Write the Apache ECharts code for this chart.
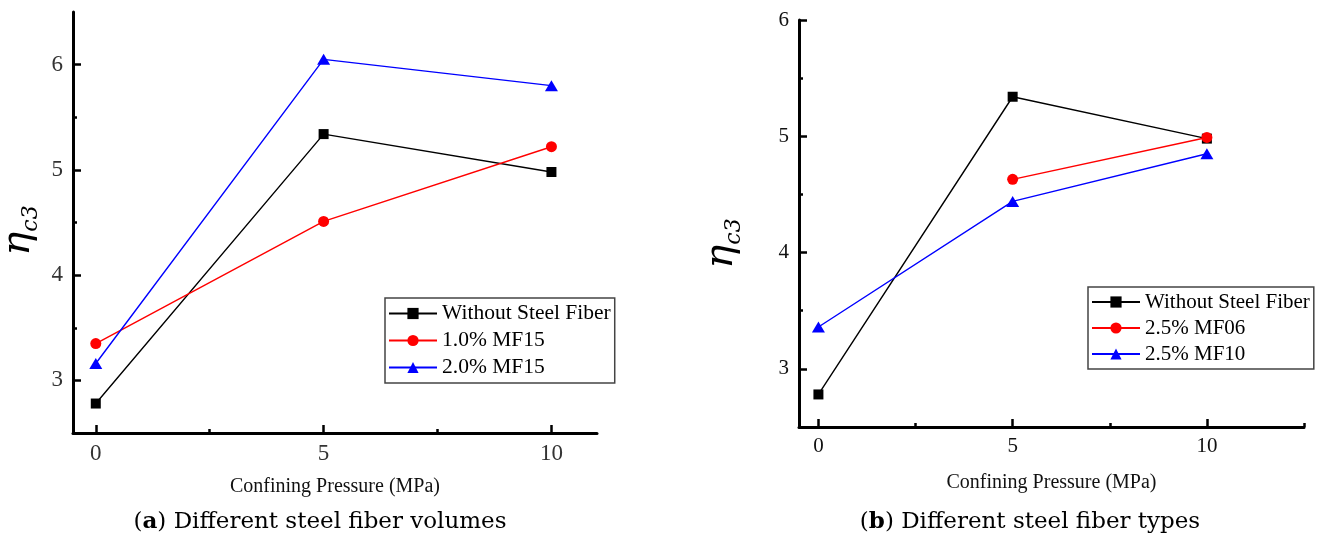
<!DOCTYPE html>
<html>
<head>
<meta charset="utf-8">
<script src="https://cdn.jsdelivr.net/npm/echarts@6/dist/echarts.min.js"></script>
<style>
  html, body { margin: 0; padding: 0; background: #fff; }
  #chart { width: 1322px; height: 543px; }
</style>
</head>
<body>
<div id="chart"></div>
<script>
// Confining pressure (MPa) at which each specimen group was tested
const pressures = [0, 5, 10];

// (a) different steel fiber volumes
const volNoFiber = [2.78, 5.34, 4.98];
const vol10MF15 = [3.35, 4.51, 5.22];
const vol20MF15 = [3.16, 6.05, 5.80];
const volNames = ['Without Steel Fiber', '1.0% MF15', '2.0% MF15'];

// (b) different steel fiber types (no MF06 specimen at 0 MPa)
const typeNoFiber = [2.78, 5.34, 4.98];
const type25MF06 = [null, 4.63, 4.99];
const type25MF10 = [3.36, 4.44, 4.85];
const typeNames = ['Without Steel Fiber', '2.5% MF06', '2.5% MF10'];

// tick positions
const xMajor = [0, 5, 10];
const xMinorA = [2.5, 7.5];
const xMinorB = [2.5, 7.5, 12.5];
const yMajorA = [3, 4, 5, 6];
const yMajorB = [3, 4, 5, 6];
const yMinor = [3.5, 4.5, 5.5];

const SERIF = '"Liberation Serif", "Times New Roman", serif';

function pairs(vals) {
  const out = [];
  vals.forEach((v, i) => { if (v !== null) out.push([pressures[i], v]); });
  return out;
}

const styles = [
  { color: '#000000', symbol: 'rect', symbolSize: 10 },
  { color: '#ff0000', symbol: 'circle', symbolSize: 11 },
  { color: '#0000ff', symbol: 'triangle', symbolSize: [13, 11] }
];

function makeSeries(names, sets, xi, yi) {
  return sets.map((vals, k) => ({
    name: names[k],
    type: 'line',
    xAxisIndex: xi,
    yAxisIndex: yi,
    data: pairs(vals),
    symbol: styles[k].symbol,
    symbolSize: styles[k].symbolSize,
    itemStyle: { color: styles[k].color },
    lineStyle: { color: styles[k].color, width: 1.4 },
    showSymbol: true,
    animation: false,
    z: 2 + k
  }));
}

function majorX(grid, min, max, labelSize, labelColor, gap) {
  return {
    gridIndex: grid, type: 'value', min: min, max: max, position: 'bottom', offset: 0,
    axisLine: { show: true, onZero: false, lineStyle: { color: '#000', width: 3 } },
    axisTick: { show: true, inside: true, length: 8, customValues: xMajor, lineStyle: { color: '#000', width: 2.5 } },
    axisLabel: { show: true, customValues: xMajor, margin: 9, fontFamily: SERIF, fontSize: labelSize, color: labelColor },
    splitLine: { show: false },
    name: 'Confining Pressure (MPa)', nameLocation: 'middle', nameGap: gap,
    nameTextStyle: { fontFamily: SERIF, fontSize: 20, color: '#111' }
  };
}
function minorX(grid, min, max, vals) {
  return {
    gridIndex: grid, type: 'value', min: min, max: max, position: 'bottom', offset: 0,
    axisLine: { show: false, onZero: false },
    axisTick: { show: true, inside: true, length: 4, customValues: vals, lineStyle: { color: '#000', width: 2.5 } },
    axisLabel: { show: false }, splitLine: { show: false }
  };
}
function majorY(grid, min, max, ticks, labelSize, labelColor, gap, pad) {
  return {
    gridIndex: grid, type: 'value', min: min, max: max, position: 'left', offset: 0,
    axisLine: { show: true, onZero: false, lineStyle: { color: '#000', width: 3 } },
    axisTick: { show: true, inside: true, length: 8, customValues: ticks, lineStyle: { color: '#000', width: 2.5 } },
    axisLabel: { show: true, customValues: ticks, margin: 10, fontFamily: SERIF, fontSize: labelSize, color: labelColor },
    splitLine: { show: false },
    name: '{e|η}{s|c3}', nameLocation: 'middle', nameRotate: 90, nameGap: gap,
    nameTextStyle: {
      padding: pad,
      rich: {
        e: { fontFamily: '"DejaVu Serif", serif', fontStyle: 'italic', fontSize: 40, lineHeight: 46, color: '#000' },
        s: { fontFamily: '"DejaVu Serif", serif', fontStyle: 'italic', fontSize: 22, lineHeight: 46, verticalAlign: 'bottom', color: '#000' }
      }
    }
  };
}
function minorY(grid, min, max) {
  return {
    gridIndex: grid, type: 'value', min: min, max: max, position: 'left', offset: 0,
    axisLine: { show: false, onZero: false },
    axisTick: { show: true, inside: true, length: 4, customValues: yMinor, lineStyle: { color: '#000', width: 2.5 } },
    axisLabel: { show: false }, splitLine: { show: false }
  };
}

function legendFor(names, left, top, fontSize, lineH) {
  return {
    data: names,
    orient: 'vertical', align: 'left',
    left: left, top: top,
    itemWidth: 48, itemHeight: 14, itemGap: 0,
    padding: [2, 4, 2, 3],
    borderColor: '#444', borderWidth: 1.5, borderRadius: 0,
    backgroundColor: '#fff',
    textStyle: { fontFamily: SERIF, fontSize: fontSize, lineHeight: lineH, color: '#000' }
  };
}

const chart = echarts.init(document.getElementById('chart'), null, { renderer: 'canvas' });

chart.setOption({
  animation: false,
  backgroundColor: '#fff',
  grid: [
    { left: 73, top: 12, width: 524, height: 421, containLabel: false, outerBoundsMode: 'none' },
    { left: 799, top: 20, width: 505, height: 407, containLabel: false, outerBoundsMode: 'none' }
  ],
  xAxis: [
    majorX(0, -0.5, 11, 23, '#333', 44),
    minorX(0, -0.5, 11, xMinorA),
    majorX(1, -0.5, 12.5, 21, '#111', 46),
    minorX(1, -0.5, 12.5, xMinorB)
  ],
  yAxis: [
    majorY(0, 2.5, 6.5, yMajorA, 23, '#333', 31, [0, 16, 0, 0]),
    minorY(0, 2.5, 6.5),
    majorY(1, 2.5, 6, yMajorB, 21, '#111', 54, [0, 40, 0, 0]),
    minorY(1, 2.5, 6)
  ],
  legend: [
    legendFor(volNames, 385, 298, 21.5, 27),
    legendFor(typeNames, 1088, 287, 21, 26)
  ],
  series: [
    ...makeSeries(volNames, [volNoFiber, vol10MF15, vol20MF15], 0, 0),
    ...makeSeries(typeNames, [typeNoFiber, type25MF06, type25MF10], 2, 2)
  ],
  graphic: [
    {
      type: 'text', x: 320, y: 522,
      style: {
        text: '({b|a}) Different steel fiber volumes',
        fontFamily: '"DejaVu Serif", serif', fontSize: 23, fill: '#000',
        align: 'center', verticalAlign: 'middle',
        rich: { b: { fontFamily: '"DejaVu Serif", serif', fontSize: 23, fontWeight: 'bold', fill: '#000' } }
      }
    },
    {
      type: 'text', x: 1030, y: 522,
      style: {
        text: '({b|b}) Different steel fiber types',
        fontFamily: '"DejaVu Serif", serif', fontSize: 23, fill: '#000',
        align: 'center', verticalAlign: 'middle',
        rich: { b: { fontFamily: '"DejaVu Serif", serif', fontSize: 23, fontWeight: 'bold', fill: '#000' } }
      }
    }
  ]
});
</script>
</body>
</html>
